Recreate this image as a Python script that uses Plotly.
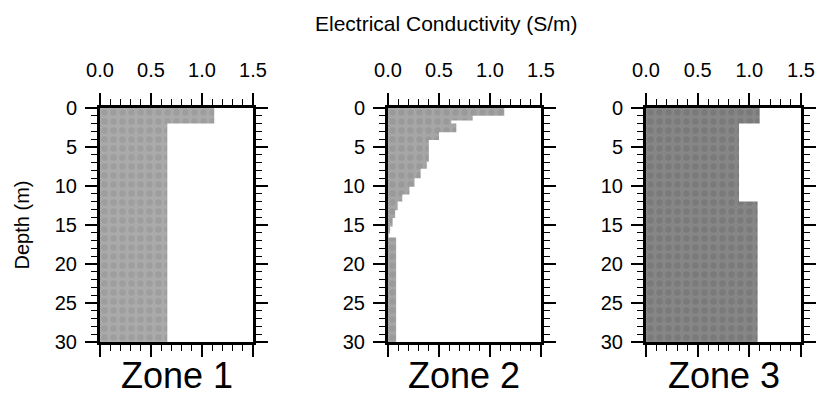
import plotly.graph_objects as go

# ---- data (depth layers: top, bottom, conductivity S/m) ----
zone1_top = [0, 2]
zone1_bot = [2, 30]
zone1_val = [1.12, 0.66]

zone2_top = [0, 1.0, 1.6, 2.0, 3.1, 4.1, 6.9, 7.8, 9.0, 10.1, 11.1, 12.0, 13.1, 14.1, 15.2, 16.1, 16.6]
zone2_bot = [1.0, 1.6, 2.0, 3.1, 4.1, 6.9, 7.8, 9.0, 10.1, 11.1, 12.0, 13.1, 14.1, 15.2, 16.1, 16.6, 30]
zone2_val = [1.14, 0.83, 0.62, 0.67, 0.50, 0.40, 0.38, 0.32, 0.26, 0.21, 0.14, 0.095, 0.07, 0.045, 0.02, 0.005, 0.08]

zone3_top = [0, 2, 12]
zone3_bot = [2, 12, 30]
zone3_val = [1.10, 0.90, 1.08]

zone_names = ["Zone 1", "Zone 2", "Zone 3"]
x_ticks = [0.0, 0.5, 1.0, 1.5]
y_ticks = [0, 5, 10, 15, 20, 25, 30]

W, H = 817, 399
panels_px = [(100, 253), (388, 541), (646, 801)]
y_top_px, y_bot_px = 108, 342
bg_colors = ["#aaaaaa", "#a6a6a6", "#868686"]
fg_colors = ["#9e9e9e", "#9a9a9a", "#7a7a7a"]
FONT = "Liberation Sans, Arial, sans-serif"

fig = go.Figure()
zones = [(zone1_top, zone1_bot, zone1_val),
         (zone2_top, zone2_bot, zone2_val),
         (zone3_top, zone3_bot, zone3_val)]

for i, (tops, bots, vals) in enumerate(zones):
    # step outline of the conductivity profile, closed along x = 0
    xs, ys = [0], [tops[0]]
    for t, b, v in zip(tops, bots, vals):
        xs += [v, v]
        ys += [t, b]
    xs += [0, 0]
    ys += [bots[-1], tops[0]]
    sfx = "" if i == 0 else str(i + 1)
    fig.add_trace(go.Scatter(
        x=xs, y=ys, mode="lines", fill="toself", fillcolor=bg_colors[i],
        fillpattern=dict(shape=".", size=9, solidity=0.4,
                         fgcolor=fg_colors[i], bgcolor=bg_colors[i], fillmode="replace"),
        line=dict(width=0, color=bg_colors[i]),
        xaxis="x" + sfx, yaxis="y" + sfx, showlegend=False, hoverinfo="skip",
    ))

layout = dict(
    width=W, height=H, margin=dict(l=0, r=0, t=0, b=0),
    paper_bgcolor="white", plot_bgcolor="white",
    font=dict(family=FONT, size=20, color="black"),
    showlegend=False,
)

ydom = [1 - y_bot_px / H, 1 - y_top_px / H]
for i, (x0, x1) in enumerate(panels_px):
    sfx = "" if i == 0 else str(i + 1)
    xa = dict(
        domain=[x0 / W, x1 / W], range=[0, 1.5], side="top",
        tickvals=x_ticks, ticktext=[f"{v:.1f}" for v in x_ticks],
        ticks="outside", ticklen=12, tickwidth=1.5, tickcolor="black",
        showline=True, linewidth=3, linecolor="black", mirror="allticks",
        showgrid=False, zeroline=False, ticklabelstandoff=8, automargin=False,
        minor=dict(dtick=0.1, tick0=0, ticks="outside", ticklen=6, tickwidth=1.2, tickcolor="black", showgrid=False),
        anchor="y" + sfx, fixedrange=True,
    )
    ya = dict(
        domain=ydom, range=[30, 0],
        tickvals=y_ticks, ticktext=[str(v) for v in y_ticks],
        ticks="outside", ticklen=12, tickwidth=1.5, tickcolor="black",
        showline=True, linewidth=3, linecolor="black", mirror="allticks",
        showgrid=False, zeroline=False, ticklabelstandoff=4, automargin=False,
        minor=dict(dtick=1, tick0=0, ticks="outside", ticklen=6, tickwidth=1.2, tickcolor="black", showgrid=False),
        anchor="x" + sfx, fixedrange=True,
    )
    if i == 0:
        ya["title"] = dict(text="Depth (m)", font=dict(size=20), standoff=20)
    layout["xaxis" + sfx] = xa
    layout["yaxis" + sfx] = ya

fig.update_layout(**layout)

annotations = [dict(text="Electrical Conductivity (S/m)", x=446 / W, y=1 - 23 / H,
                    xref="paper", yref="paper", showarrow=False,
                    font=dict(size=21), xanchor="center", yanchor="middle")]
for i, (x0, x1) in enumerate(panels_px):
    annotations.append(dict(text=zone_names[i], x=(x0 + x1) / 2 / W, y=1 - 375 / H,
                            xref="paper", yref="paper", showarrow=False,
                            font=dict(size=36), xanchor="center", yanchor="middle"))
fig.update_layout(annotations=annotations)

fig.write_html("out.html")
